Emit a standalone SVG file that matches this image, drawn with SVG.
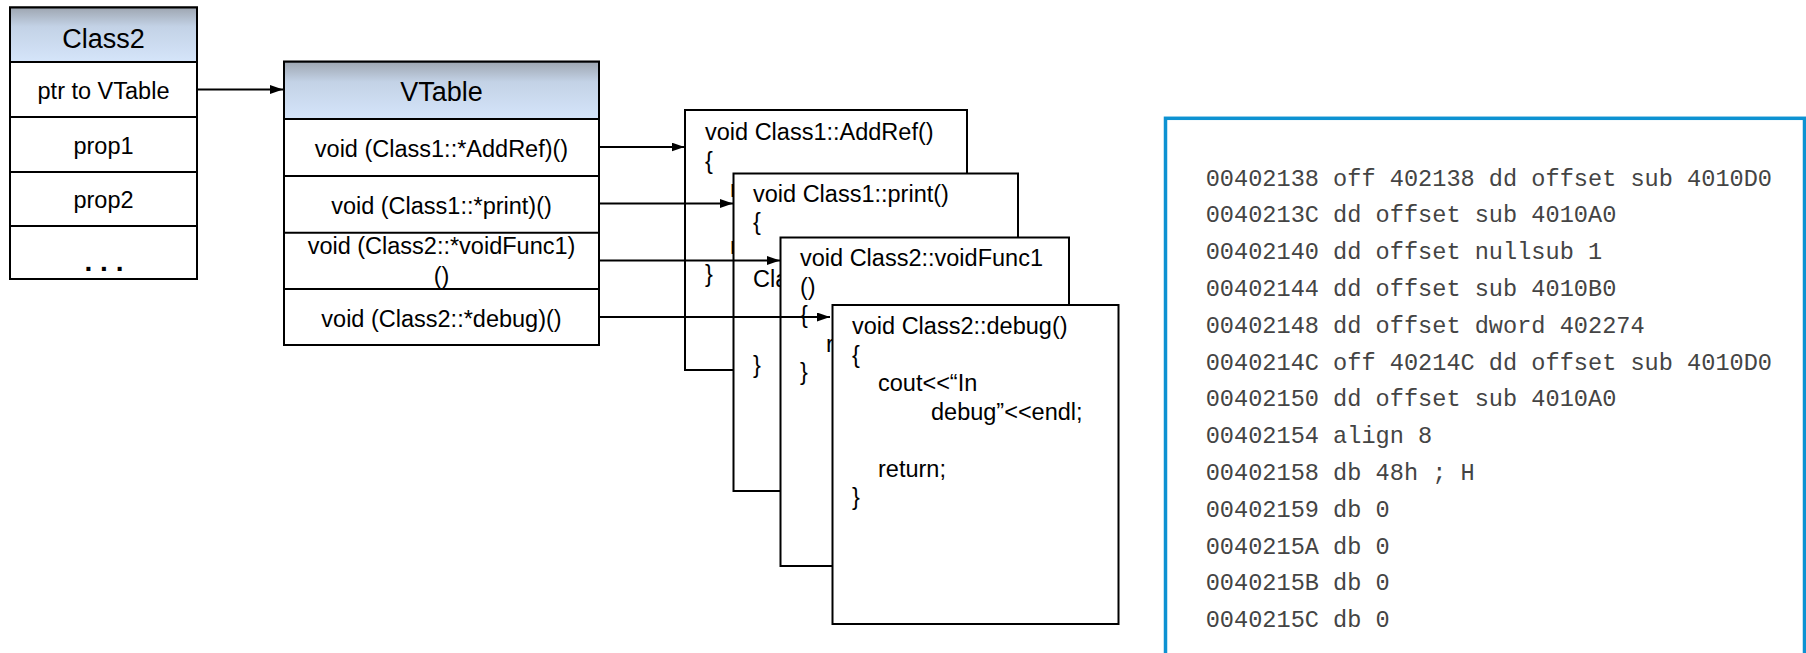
<svg xmlns="http://www.w3.org/2000/svg" width="1806" height="653" viewBox="0 0 1806 653">
<defs>
<linearGradient id="hdr" x1="0" y1="0" x2="0" y2="1">
<stop offset="0" stop-color="#9ea6b1"/>
<stop offset="0.35" stop-color="#c3d2e6"/>
<stop offset="1" stop-color="#d5e5fa"/>
</linearGradient>
<marker id="ah" markerUnits="userSpaceOnUse" markerWidth="14" markerHeight="10" refX="13" refY="4.5" orient="auto">
<path d="M0,0 L13,4.5 L0,9 z" fill="#000"/>
</marker>
<style>
.box{fill:#fff;stroke:#000;stroke-width:2}
.hd{fill:url(#hdr);stroke:#000;stroke-width:2}
.t{font-family:"Liberation Sans",Arial,sans-serif;font-size:23.5px;fill:#000}
.h{font-family:"Liberation Sans",Arial,sans-serif;font-size:27px;fill:#000}
.c{text-anchor:middle}
.m{font-family:"Liberation Mono","Courier New",monospace;font-size:23.6px;fill:#444}
.cn{stroke:#000;stroke-width:2;fill:none;marker-end:url(#ah)}
</style>
</defs>
<rect width="1806" height="653" fill="#fff"/>

<g id="class2">
<rect class="box" x="10" y="7.5" width="187" height="271.5"/>
<rect class="hd" x="10" y="7.5" width="187" height="54.5"/>
<line class="box" x1="10" y1="117" x2="197" y2="117"/>
<line class="box" x1="10" y1="172" x2="197" y2="172"/>
<line class="box" x1="10" y1="226" x2="197" y2="226"/>
<text class="h c" x="103.5" y="48">Class2</text>
<text class="t c" x="103.5" y="99">ptr to VTable</text>
<text class="t c" x="103.5" y="153.5">prop1</text>
<text class="t c" x="103.5" y="207.5">prop2</text>
<text class="t c" x="104" y="270.5" style="font-weight:bold;font-size:28px">. . .</text>
</g>

<g id="vtable">
<rect class="box" x="284" y="61.7" width="315" height="283.3"/>
<rect class="hd" x="284" y="61.7" width="315" height="57.3"/>
<line class="box" x1="284" y1="176" x2="599" y2="176"/>
<line class="box" x1="284" y1="232.7" x2="599" y2="232.7"/>
<line class="box" x1="284" y1="289" x2="599" y2="289"/>
<text class="h c" x="441.5" y="101">VTable</text>
<text class="t c" x="441.5" y="156.5">void (Class1::*AddRef)()</text>
<text class="t c" x="441.5" y="213.5">void (Class1::*print)()</text>
<text class="t c" x="441.5" y="253.5">void (Class2::*voidFunc1)</text>
<text class="t c" x="441.5" y="284">()</text>
<text class="t c" x="441.5" y="326.5">void (Class2::*debug)()</text>
</g>

<g id="fn-addref">
<rect class="box" x="685" y="110" width="282" height="260"/>
<text class="t" x="705" y="140">void Class1::AddRef()</text>
<text class="t" x="705" y="168.5">{</text>
<text class="t" x="730" y="197">r</text>
<text class="t" x="730" y="254">r</text>
<text class="t" x="705" y="282">}</text>
</g>

<g id="fn-print">
<rect class="box" x="733.5" y="173.5" width="284.5" height="317.5"/>
<text class="t" x="753" y="201.7">void Class1::print()</text>
<text class="t" x="753" y="230.2">{</text>
<text class="t" x="753" y="287">Cla</text>
<text class="t" x="753" y="372.5">}</text>
</g>

<g id="fn-voidfunc1">
<rect class="box" x="780.5" y="237.5" width="288.5" height="328.5"/>
<text class="t" x="800" y="266">void Class2::voidFunc1</text>
<text class="t" x="800" y="294.5">()</text>
<text class="t" x="800" y="323">{</text>
<text class="t" x="826" y="351.5">r</text>
<text class="t" x="800" y="380">}</text>
</g>

<g id="fn-debug">
<rect class="box" x="832.5" y="305" width="286" height="319"/>
<text class="t" x="852" y="334">void Class2::debug()</text>
<text class="t" x="852" y="362.5">{</text>
<text class="t" x="878" y="391">cout&lt;&lt;“In</text>
<text class="t" x="931" y="419.5">debug”&lt;&lt;endl;</text>
<text class="t" x="878" y="476.5">return;</text>
<text class="t" x="852" y="505">}</text>
</g>

<g id="connectors">
<line class="cn" x1="197" y1="89.5" x2="283" y2="89.5"/>
<line class="cn" x1="599" y1="147" x2="684.5" y2="147"/>
<line class="cn" x1="599" y1="203.5" x2="733" y2="203.5"/>
<line class="cn" x1="599" y1="260.5" x2="780" y2="260.5"/>
<line class="cn" x1="599" y1="317" x2="830" y2="317"/>
</g>

<g id="asm">
<rect x="1165.5" y="118.3" width="639" height="600" fill="#fff" stroke="#0d92d2" stroke-width="3.5"/>
<text class="m" x="1205.7" y="185.5">00402138 off 402138 dd offset sub 4010D0</text>
<text class="m" x="1205.7" y="222.3">0040213C dd offset sub 4010A0</text>
<text class="m" x="1205.7" y="259.1">00402140 dd offset nullsub 1</text>
<text class="m" x="1205.7" y="295.9">00402144 dd offset sub 4010B0</text>
<text class="m" x="1205.7" y="332.7">00402148 dd offset dword 402274</text>
<text class="m" x="1205.7" y="369.5">0040214C off 40214C dd offset sub 4010D0</text>
<text class="m" x="1205.7" y="406.3">00402150 dd offset sub 4010A0</text>
<text class="m" x="1205.7" y="443.1">00402154 align 8</text>
<text class="m" x="1205.7" y="479.9">00402158 db 48h ; H</text>
<text class="m" x="1205.7" y="516.7">00402159 db 0</text>
<text class="m" x="1205.7" y="553.5">0040215A db 0</text>
<text class="m" x="1205.7" y="590.3">0040215B db 0</text>
<text class="m" x="1205.7" y="627.1">0040215C db 0</text>
</g>
</svg>
